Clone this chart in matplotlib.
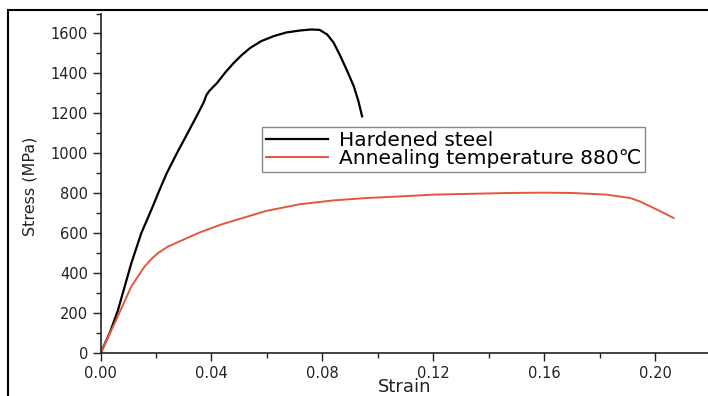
import numpy as np
import matplotlib
matplotlib.use("Agg")
import matplotlib.pyplot as plt
from matplotlib.ticker import MultipleLocator, FormatStrFormatter
from matplotlib.patches import Rectangle

# values
hard_strain = [0.0, 0.0033, 0.0063, 0.0111, 0.0147, 0.0183, 0.0213, 0.0239, 0.0276,
               0.0311, 0.0348, 0.0372, 0.0382, 0.0392, 0.042, 0.045, 0.048, 0.051, 0.054,
               0.058, 0.0625, 0.067, 0.072, 0.076, 0.079, 0.0817, 0.084, 0.0865, 0.089,
               0.0913, 0.093, 0.0943]
hard_stress = [0, 99, 215, 449, 600, 716, 817, 901, 1002,
               1093, 1190, 1255, 1292, 1312, 1352, 1405, 1452, 1493, 1528,
               1562, 1587, 1605, 1615, 1620, 1618, 1595, 1555, 1486, 1410,
               1336, 1260, 1185]

anneal_strain = [0.0, 0.0051, 0.0111, 0.0159, 0.0183, 0.0207, 0.0243, 0.0324, 0.036, 0.0432,
                 0.0479, 0.0599, 0.0719, 0.0839, 0.0959, 0.108, 0.12, 0.1464, 0.16,
                 0.1704, 0.1824, 0.191, 0.1944, 0.197, 0.2015, 0.2066]
anneal_stress = [0, 149, 333, 433, 470, 500, 533, 583, 605, 642,
                 662, 712, 745, 764, 776, 784, 793, 801, 803,
                 801, 793, 776, 759, 742, 712, 676]

labels = ["Hardened steel", "Annealing temperature 880\u2103"]
colors = ["black", "#e4573d"]

W, H = 708, 396
fig = plt.figure(figsize=(W / 100, H / 100), dpi=100)
ax = fig.add_axes([100.5 / W, 43 / H, (W - 100.5) / W, (353 - 13.5) / H])

ax.plot(hard_strain, hard_stress, color=colors[0], lw=1.6, label=labels[0])
ax.plot(anneal_strain, anneal_stress, color=colors[1], lw=1.4, label=labels[1])

ax.set_xlim(0, 0.219)
ax.set_ylim(0, 1700)
ax.xaxis.set_major_locator(MultipleLocator(0.04))
ax.xaxis.set_minor_locator(MultipleLocator(0.02))
ax.yaxis.set_major_locator(MultipleLocator(200))
ax.yaxis.set_minor_locator(MultipleLocator(100))
ax.xaxis.set_major_formatter(FormatStrFormatter("%.2f"))

for s in ["top", "right"]:
  ax.spines[s].set_visible(False)
for s in ["left", "bottom"]:
  ax.spines[s].set_linewidth(1.2)
  ax.spines[s].set_color("#222222")

ax.tick_params(which="major", direction="out", length=6, width=1, labelsize=10.5, colors="#222222", pad=3)
ax.tick_params(which="minor", direction="out", length=3.5, width=1, colors="#222222")

ax.set_xlabel("Strain", fontsize=13, color="#222222")
ax.set_ylabel("Stress (MPa)", fontsize=11.5, color="#222222")
ax.xaxis.set_label_coords(0.5, -0.074)
ax.yaxis.set_label_coords(-0.103, 0.49)

ax.legend(loc="upper left", bbox_to_anchor=(262 / W, 1 - 127 / H), bbox_transform=fig.transFigure,
          borderaxespad=0, fancybox=False, edgecolor="#888888", framealpha=1,
          fontsize=14.5, handlelength=3.1, handletextpad=0.5, labelspacing=-0.05,
          borderpad=0.2)

# outer frame of the picture
fig.patches.append(Rectangle((8 / W, -0.1), 1.2, 1 - 10 / H + 0.1, transform=fig.transFigure,
                             fill=False, lw=1.5, edgecolor="black", zorder=10))

fig.savefig("out.png", dpi=100)
